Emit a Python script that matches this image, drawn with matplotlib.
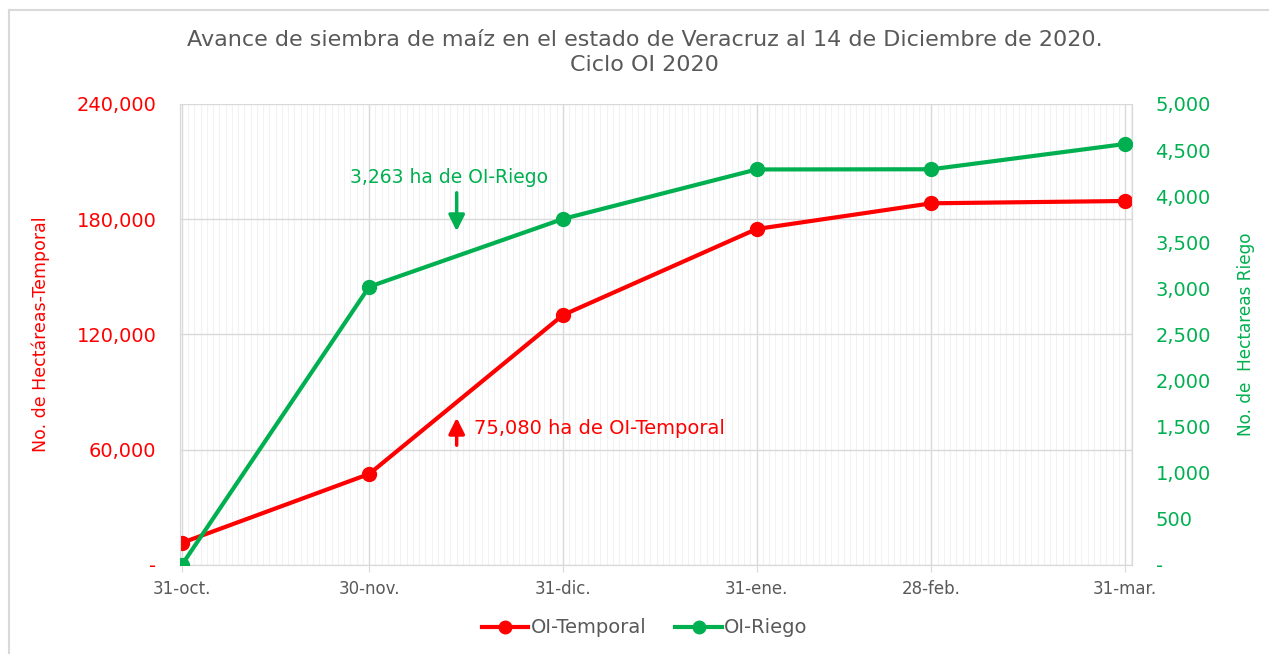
import matplotlib.pyplot as plt
import matplotlib.dates as mdates
from matplotlib.ticker import FuncFormatter, MultipleLocator
from matplotlib.lines import Line2D
import datetime as dt

plt.rcParams['font.family'] = ['DejaVu Sans']

fechas = ['2020-10-31', '2020-11-30', '2020-12-31', '2021-01-31', '2021-02-28', '2021-03-31']
etiquetas = ['31-oct.', '30-nov.', '31-dic.', '31-ene.', '28-feb.', '31-mar.']
temporal = [11500, 47400, 130100, 174900, 188300, 189500]
riego = [0, 3018, 3753, 4290, 4292, 4566]

rojo = '#FF0000'
verde = '#00B050'
gris = '#595959'

x = [dt.datetime.strptime(f, '%Y-%m-%d') for f in fechas]

fig = plt.figure(figsize=(12.69, 6.54), dpi=100)
ax = fig.add_axes([0.1418, 0.1361, 0.7502, 0.7049])
ax2 = ax.twinx()

ax.plot(x, temporal, color=rojo, lw=3, marker='o', ms=10, zorder=3)
ax2.plot(x, riego, color=verde, lw=3, marker='o', ms=10, zorder=3)

ax.set_xlim(x[0] - dt.timedelta(days=0.3), x[-1] + dt.timedelta(days=1.1))
ax.set_ylim(0, 240000)
ax2.set_ylim(0, 5000)

ax.set_xticks(x)
ax.set_xticklabels(etiquetas)
ax.xaxis.set_minor_locator(mdates.DayLocator())
ax.yaxis.set_major_locator(MultipleLocator(60000))
ax2.yaxis.set_major_locator(MultipleLocator(500))

fmt = FuncFormatter(lambda v, p: '-' if v == 0 else f'{v:,.0f}')
ax.yaxis.set_major_formatter(fmt)
ax2.yaxis.set_major_formatter(fmt)

ax.grid(which='minor', axis='x', color='#F2F2F2', lw=0.8)
ax.grid(which='major', axis='x', color='#D9D9D9', lw=1)
ax.grid(which='major', axis='y', color='#D9D9D9', lw=1)
ax.set_axisbelow(True)

for a in (ax, ax2):
    for s in a.spines.values():
        s.set_color('#D9D9D9')
    a.spines['top'].set_visible(False)

ax.tick_params(axis='x', which='major', length=5, color='#D9D9D9', labelcolor=gris,
               labelsize=12, pad=6)
ax.tick_params(axis='x', which='minor', length=0)
ax.tick_params(axis='y', length=0, labelcolor=rojo, labelsize=14, pad=17)
ax2.tick_params(axis='y', length=0, labelcolor=verde, labelsize=14, pad=17)

ax.set_ylabel('No. de Hectáreas-Temporal', color=rojo, fontsize=12.5)
ax.yaxis.set_label_coords(-0.1366, 0.5)
ax2.set_ylabel('No. de  Hectareas Riego', color=verde, fontsize=12.2, rotation=90)
ax2.yaxis.set_label_coords(1.110, 0.5)

fig.text(0.508, 1 - 40 / 654, 'Avance de siembra de maíz en el estado de Veracruz al 14 de Diciembre de 2020.',
         color=gris, fontsize=16, ha='center', va='center')
fig.text(0.508, 1 - 65 / 654, 'Ciclo OI 2020', color=gris, fontsize=16, ha='center', va='center')

flecha = dt.datetime(2020, 12, 14)
ax2.annotate('', xy=(flecha, 3590), xytext=(flecha, 4067),
             arrowprops=dict(arrowstyle='-|>', color=verde, lw=2.5, mutation_scale=24))
ax2.text(flecha - dt.timedelta(days=1.2), 4208, '3,263 ha de OI-Riego', color=verde,
         fontsize=13.5, ha='center', va='center')
ax.annotate('', xy=(flecha, 78100), xytext=(flecha, 60900),
            arrowprops=dict(arrowstyle='-|>', color=rojo, lw=2.5, mutation_scale=24))
ax.text(flecha + dt.timedelta(days=2.7), 71300, '75,080 ha de OI-Temporal', color=rojo,
        fontsize=14, ha='left', va='center')

handles = [Line2D([], [], color=rojo, lw=3, marker='o', ms=9),
           Line2D([], [], color=verde, lw=3, marker='o', ms=9)]
fig.legend(handles, ['OI-Temporal', 'OI-Riego'], loc='center', bbox_to_anchor=(0.508, 0.04),
           ncol=2, frameon=False, fontsize=14, labelcolor=gris, handlelength=2.4,
           handletextpad=0.1, columnspacing=1.5)

# marco gris del gráfico
fig.add_artist(Line2D([0.0071, 0.0071], [0, 0.9847], color='#D9D9D9', lw=1.5,
                      transform=fig.transFigure))
fig.add_artist(Line2D([0.0071, 1], [0.9847, 0.9847], color='#D9D9D9', lw=1.5,
                      transform=fig.transFigure))

fig.savefig('out.png', dpi=100)
